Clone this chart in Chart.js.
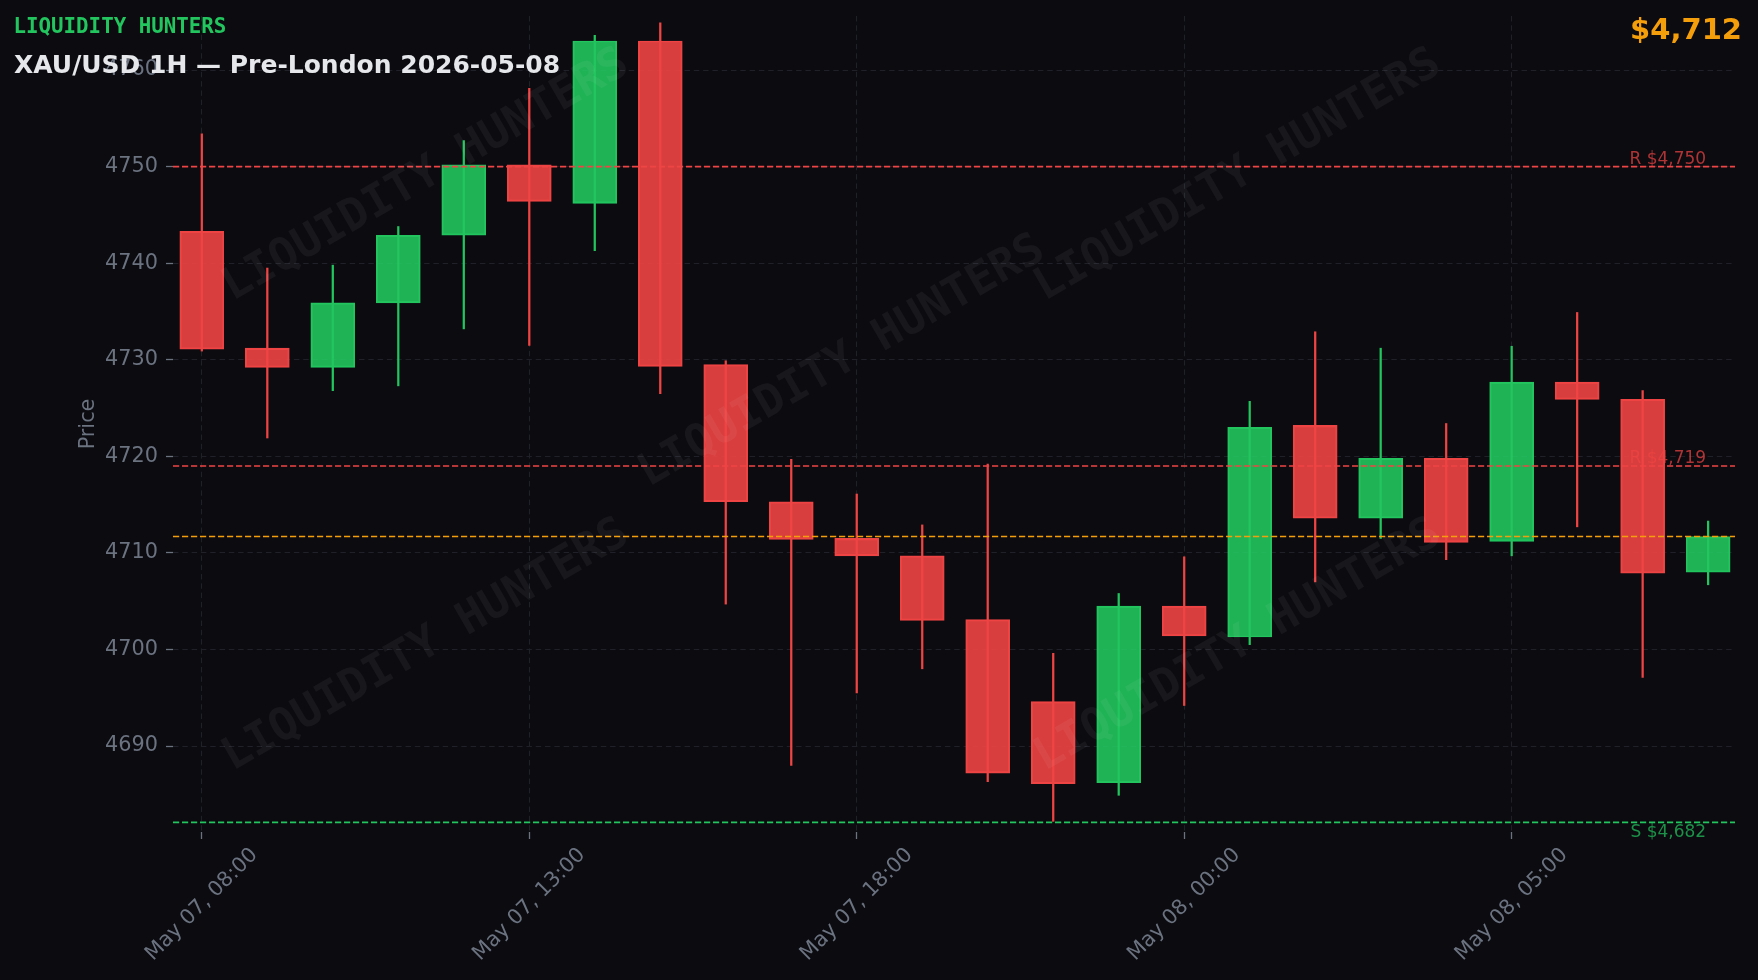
<!DOCTYPE html>
<html>
<head>
<meta charset="utf-8">
<title>XAU/USD 1H</title>
<script src="https://cdn.jsdelivr.net/npm/chart.js@4.4.1/dist/chart.umd.min.js"></script>
<style>
    html, body { margin: 0; padding: 0; background: #0b0b10; }
    canvas { display: block; }
</style>
</head>
<body>
<canvas id="myChart" width="1758" height="980"></canvas>
<script>

// hourly candles, one entry per bar (21:00 is missing in the source feed)
const times = [
    'May 07, 08:00', 'May 07, 09:00', 'May 07, 10:00', 'May 07, 11:00', 'May 07, 12:00',
    'May 07, 13:00', 'May 07, 14:00', 'May 07, 15:00', 'May 07, 16:00', 'May 07, 17:00',
    'May 07, 18:00', 'May 07, 19:00', 'May 07, 20:00', 'May 07, 22:00', 'May 07, 23:00',
    'May 08, 00:00', 'May 08, 01:00', 'May 08, 02:00', 'May 08, 03:00', 'May 08, 04:00',
    'May 08, 05:00', 'May 08, 06:00', 'May 08, 07:00', 'May 08, 08:00'
];
const opens  = [4743.3, 4731.2, 4729.2, 4735.9, 4742.9, 4750.2, 4746.2, 4763.0, 4729.5, 4715.3, 4711.5, 4709.7,
                4703.1, 4694.6, 4686.2, 4704.5, 4701.3, 4723.2, 4713.6, 4719.8, 4711.2, 4727.7, 4725.9, 4708.0];
const highs  = [4753.4, 4739.5, 4739.8, 4743.8, 4752.7, 4758.1, 4763.6, 4764.9, 4729.9, 4719.7, 4716.1, 4712.9,
                4719.2, 4699.6, 4705.8, 4709.6, 4725.7, 4732.9, 4731.2, 4723.4, 4731.4, 4734.9, 4726.8, 4713.3];
const lows   = [4730.9, 4721.9, 4726.8, 4727.3, 4733.2, 4731.5, 4741.3, 4726.5, 4704.7, 4688.0, 4695.5, 4698.0,
                4686.3, 4682.2, 4684.9, 4694.2, 4700.5, 4707.0, 4711.5, 4709.3, 4709.7, 4712.7, 4697.1, 4706.7];
const closes = [4731.1, 4729.2, 4735.9, 4742.9, 4750.2, 4746.4, 4763.0, 4729.3, 4715.3, 4711.4, 4709.7, 4703.0,
                4687.2, 4686.1, 4704.5, 4701.4, 4723.0, 4713.6, 4719.8, 4711.1, 4727.7, 4725.9, 4707.9, 4711.7];

const priceTicks = [4690, 4700, 4710, 4720, 4730, 4740, 4750, 4760];
const timeTickIdx = [0, 5, 10, 15, 20];

const resistance = [4750, 4719];
const resistanceLabels = ['R $4,750', 'R $4,719'];
const support = [4682.1];
const supportLabels = ['S $4,682'];
const currentPrice = 4711.7;
const currentLabel = '$4,712';

const RED = '#ef4444';
const GREEN = '#22c55e';
const ORANGE = '#f59e0b';
const GRID = '#1f2028';
const MUTED = '#6b7280';
const BG = '#0b0b10';

const up = closes.map((c, i) => c >= opens[i]);

// background + overlays
const decor = {
    id: 'decor',
    beforeDraw(chart) {
        const ctx = chart.ctx;
        ctx.save();
        ctx.fillStyle = BG;
        ctx.fillRect(0, 0, chart.width, chart.height);
        ctx.restore();
    },
    afterDatasetsDraw(chart) {
        const ctx = chart.ctx;
        const area = chart.chartArea;
        const xs = chart.scales.x;
        const ys = chart.scales.y;
        const labelX = xs.getPixelForValue(times.length - 1) - 2;

        function hline(v, color) {
            const y = ys.getPixelForValue(v);
            ctx.save();
            ctx.strokeStyle = color;
            ctx.lineWidth = 1.7;
            ctx.setLineDash([6.2, 2.8]);
            ctx.beginPath();
            ctx.moveTo(area.left, y);
            ctx.lineTo(area.right, y);
            ctx.stroke();
            ctx.restore();
            return y;
        }

        ctx.save();
        ctx.font = '17px "DejaVu Sans"';
        ctx.textAlign = 'right';
        ctx.textBaseline = 'alphabetic';
        resistance.forEach((v, i) => {
            const y = hline(v, RED);
            ctx.fillStyle = 'rgba(239,68,68,0.72)';
            ctx.fillText(resistanceLabels[i], labelX, y - 3);
        });
        support.forEach((v, i) => {
            const y = hline(v, GREEN);
            ctx.fillStyle = 'rgba(34,197,94,0.72)';
            ctx.fillText(supportLabels[i], labelX, y + 14.5);
        });
        hline(currentPrice, ORANGE);
        ctx.restore();

        // watermark
        const marks = [[426, 176], [1238, 176], [842, 362], [426, 646], [1238, 646]];
        ctx.save();
        ctx.font = 'bold 45px "DejaVu Sans Mono"';
        ctx.fillStyle = 'rgba(255,255,255,0.05)';
        ctx.textAlign = 'center';
        ctx.textBaseline = 'middle';
        marks.forEach(m => {
            ctx.save();
            ctx.translate(m[0], m[1]);
            ctx.rotate(-Math.PI / 6);
            ctx.fillText('LIQUIDITY HUNTERS', 0, 0);
            ctx.restore();
        });
        ctx.restore();
    },
    afterDraw(chart) {
        const ctx = chart.ctx;
        const area = chart.chartArea;
        const xs = chart.scales.x;

        // rotated time labels, centred under their ticks
        const fs = 20.8;
        ctx.save();
        ctx.font = fs + 'px "DejaVu Sans"';
        ctx.fillStyle = MUTED;
        ctx.textAlign = 'center';
        ctx.textBaseline = 'middle';
        xs.ticks.forEach(t => {
            const px = xs.getPixelForValue(t.value);
            const label = times[t.value];
            const w = ctx.measureText(label).width;
            const d = (w + fs * 1.17) * Math.SQRT1_2;
            ctx.save();
            ctx.translate(px, area.bottom + 7 + 7.3 + d / 2 - 3);
            ctx.rotate(-Math.PI / 4);
            ctx.fillText(label, 0, 0);
            ctx.restore();
        });
        ctx.restore();

        // headings
        ctx.save();
        ctx.textBaseline = 'alphabetic';
        ctx.textAlign = 'left';
        ctx.fillStyle = GREEN;
        ctx.font = 'bold 20.8px "DejaVu Sans Mono"';
        ctx.fillText('LIQUIDITY HUNTERS', 13.5, 33.3);
        ctx.fillStyle = '#e5e7eb';
        ctx.font = 'bold 25px "DejaVu Sans"';
        ctx.fillText('XAU/USD 1H \u2014 Pre-London 2026-05-08', 14, 73.3);
        ctx.textAlign = 'right';
        ctx.fillStyle = ORANGE;
        ctx.font = 'bold 29px "DejaVu Sans"';
        ctx.fillText(currentLabel, 1742, 39);
        ctx.restore();
    }
};

const data = {
    datasets: [
        {
            label: 'body',
            data: opens.map((o, i) => ({ x: i, y: [o, closes[i]] })),
            backgroundColor: up.map(u => u ? 'rgba(34,197,94,0.9)' : 'rgba(239,68,68,0.9)'),
            borderColor: up.map(u => u ? GREEN : RED),
            borderWidth: 1.4,
            borderSkipped: false,
            barThickness: 44,
            grouped: false,
            order: 0
        },
        {
            label: 'wick',
            data: lows.map((l, i) => ({ x: i, y: [l, highs[i]] })),
            backgroundColor: up.map(u => u ? GREEN : RED),
            borderWidth: 0,
            barThickness: 1.6,
            grouped: false,
            order: 1
        }
    ]
};

function noEdgePadding(s) {
    s.paddingTop = 0;
    s.paddingBottom = 0;
    s.paddingLeft = 0;
    s.paddingRight = 0;
}

const config = {
    type: 'bar',
    data: data,
    options: {
        responsive: false,
        animation: false,
        devicePixelRatio: 1,
        layout: { autoPadding: false, padding: { left: 0, top: 16, right: 23, bottom: 0 } },
        plugins: {
            legend: { display: false },
            tooltip: { enabled: false }
        },
        scales: {
            x: {
                type: 'linear',
                min: -0.44,
                max: 23.41,
                offset: false,
                afterBuildTicks: s => { s.ticks = timeTickIdx.map(v => ({ value: v })); },
                afterFit: s => { s.height = 148; noEdgePadding(s); },
                ticks: { display: false },
                grid: {
                    offset: false,
                    color: GRID,
                    lineWidth: 1,
                    drawTicks: true,
                    tickLength: 7,
                    tickColor: MUTED,
                    tickWidth: 1.3,
                    tickBorderDash: []
                },
                border: { display: false, dash: [5.5, 3.8] }
            },
            y: {
                type: 'linear',
                min: 4681.1,
                max: 4765.6,
                beginAtZero: false,
                afterBuildTicks: s => { s.ticks = priceTicks.map(v => ({ value: v })); },
                afterFit: s => { s.width = 173; noEdgePadding(s); },
                ticks: {
                    color: MUTED,
                    padding: 8,
                    font: { family: 'DejaVu Sans', size: 20.8 },
                    callback: v => String(v)
                },
                title: {
                    display: true,
                    text: 'Price',
                    color: MUTED,
                    font: { family: 'DejaVu Sans', size: 20.8 },
                    padding: { top: 76, bottom: 0 }
                },
                grid: {
                    color: GRID,
                    lineWidth: 1,
                    drawTicks: true,
                    tickLength: 7,
                    tickColor: MUTED,
                    tickWidth: 1.3,
                    tickBorderDash: []
                },
                border: { display: false, dash: [5.5, 3.8] }
            }
        }
    },
    plugins: [decor]
};

const myChart = new Chart(document.getElementById('myChart'), config);
</script>
</body>
</html>
